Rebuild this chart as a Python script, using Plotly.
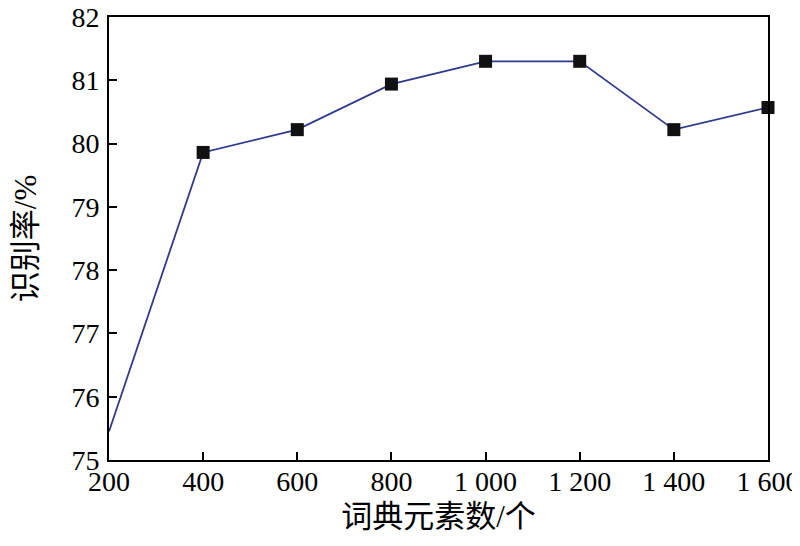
import plotly.graph_objects as go

x_vals = [200, 400, 600, 800, 1000, 1200, 1400, 1600]
y_vals = [75.45, 79.86, 80.22, 80.94, 81.30, 81.30, 80.22, 80.57]
x_ticks = [200, 400, 600, 800, 1000, 1200, 1400, 1600]
x_ticktext = ["200", "400", "600", "800", "1 000", "1 200", "1 400", "1 600"]
y_ticks = [75, 76, 77, 78, 79, 80, 81, 82]

FONT = "Liberation Serif, Times New Roman, Noto Sans CJK SC"

fig = go.Figure()
fig.add_trace(go.Scatter(x=x_vals, y=y_vals, mode="lines",
                         line=dict(color="#2e3a8c", width=1.8),
                         showlegend=False, cliponaxis=False))
fig.add_trace(go.Scatter(x=x_vals[1:], y=y_vals[1:], mode="markers",
                         marker=dict(symbol="square", size=13, color="#111111"),
                         showlegend=False, cliponaxis=False))

fig.update_layout(
    width=800, height=546,
    margin=dict(l=101, r=40, t=9, b=94, autoexpand=False),
    paper_bgcolor="white", plot_bgcolor="white",
    font=dict(family=FONT, size=28, color="black"),
    xaxis=dict(range=[200, 1600], tickvals=x_ticks, ticktext=x_ticktext,
               ticks="inside", ticklen=8, tickwidth=1.5, tickcolor="black",
               showline=True, linecolor="black", linewidth=2, mirror=True,
               showgrid=False, zeroline=False, automargin=False,
               ticklabeloverflow="allow", ticklabelstandoff=-5,
               tickfont=dict(size=28, family=FONT),
               title=dict(text="词典元素数/个", font=dict(size=31, family=FONT), standoff=10)),
    yaxis=dict(range=[75, 82], tickvals=y_ticks,
               ticks="inside", ticklen=8, tickwidth=1.5, tickcolor="black",
               showline=True, linecolor="black", linewidth=2, mirror=True,
               showgrid=False, zeroline=False, automargin=False,
               ticklabeloverflow="allow", ticklabelstandoff=2,
               tickfont=dict(size=28, family=FONT),
               title=dict(text="识别率/%", font=dict(size=31, family=FONT), standoff=28)),
)

fig.write_html("out.html")
